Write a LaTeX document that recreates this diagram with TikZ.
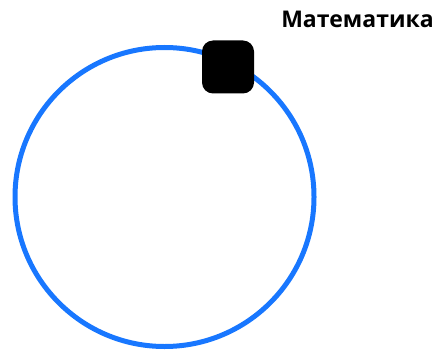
\documentclass[tikz,border=0pt]{standalone}
\usepackage{fontspec}
\setmainfont{Open Sans}
\usetikzlibrary{positioning}
\definecolor{RingBlue}{RGB}{24,119,255}

\begin{document}
\begin{tikzpicture}[
  x=1pt, y=1pt,
  ring/.style={
    draw=RingBlue,
    circle,
    line width=5pt,
    minimum size=299pt,
    inner sep=0pt
  },
  knob/.style={
    fill=black,
    rectangle,
    rounded corners=11pt,
    minimum width=52pt,
    minimum height=53pt,
    inner sep=0pt
  },
  title/.style={
    font=\bfseries\fontsize{23}{27}\selectfont,
    anchor=base,
    inner sep=0pt
  }
]
\useasboundingbox (0,0) rectangle (438,351);

% Nodes
\node[ring]  (orbit)  at (164.5,154) {};
\node[knob]  (marker) at (228,284)   {};
\node[title] (subject) at (357.5,323) {Математика};

\end{tikzpicture}
\end{document}
